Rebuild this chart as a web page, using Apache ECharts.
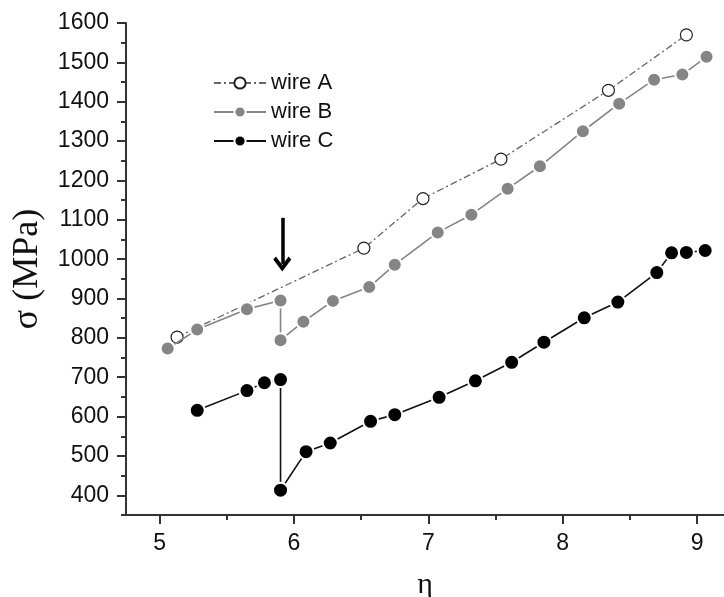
<!DOCTYPE html>
<html>
<head>
<meta charset="utf-8">
<script src="https://cdn.jsdelivr.net/npm/echarts@6/dist/echarts.min.js"></script>
<style>
  html, body { margin: 0; padding: 0; background: #fff; }
  #chart { width: 724px; height: 597px; }
</style>
</head>
<body>
<div id="chart"></div>
<script>
// Strain (eta) vs. flow stress (sigma) for three wires
const wireA_eta   = [5.13, 6.52, 6.96, 7.54, 8.34, 8.92];
const wireA_sigma = [802, 1028, 1154, 1254, 1429, 1570];

const wireB_eta   = [5.06, 5.28, 5.65, 5.90, 5.90, 6.07, 6.29, 6.56, 6.75, 7.07, 7.32, 7.59, 7.83, 8.15, 8.42, 8.68, 8.89, 9.07];
const wireB_sigma = [773, 821, 873, 895, 794, 841, 894, 929, 986, 1068, 1113, 1179, 1236, 1325, 1395, 1456, 1469, 1514];

const wireC_eta   = [5.28, 5.65, 5.78, 5.90, 5.90, 6.09, 6.27, 6.57, 6.75, 7.08, 7.35, 7.62, 7.86, 8.16, 8.41, 8.70, 8.81, 8.92, 9.06];
const wireC_sigma = [616, 666, 686, 694, 413, 511, 533, 588, 605, 649, 691, 738, 789, 851, 891, 966, 1016, 1017, 1022];

const seriesNames = ['wire A', 'wire B', 'wire C'];

// Axis ticks
const xTicks      = [5, 6, 7, 8, 9];
const xMinorTicks = [5.5, 6.5, 7.5, 8.5];
const yTicks      = [400, 500, 600, 700, 800, 900, 1000, 1100, 1200, 1300, 1400, 1500, 1600];
const yMinorTicks = [350, 450, 550, 650, 750, 850, 950, 1050, 1150, 1250, 1350, 1450, 1550];

// Arrow marking the step at eta ~ 5.9 (tail and head)
const arrowEta   = [5.913, 5.913];
const arrowSigma = [1105, 988];

const pairs = (xs, ys) => xs.map((x, i) => [x, ys[i]]);
const plain = v => String(v);

const AXIS_COLOR = '#333';
const TEXT_COLOR = '#111';
const SANS = '"Liberation Sans", Arial, sans-serif';
const SERIF = '"Liberation Serif", "Times New Roman", serif';

const xRange = { min: 4.75, max: 9.2 };
const yRange = { min: 350, max: 1600 };

const chart = echarts.init(document.getElementById('chart'), null, { renderer: 'canvas' });

chart.setOption({
  animation: false,
  backgroundColor: '#fff',
  grid: { left: 126, right: 0, top: 23, bottom: 82, containLabel: false, outerBoundsMode: 'none' },
  legend: {
    data: seriesNames,
    orient: 'vertical',
    left: 208,
    top: 67,
    itemWidth: 52,
    itemHeight: 14,
    itemGap: 7,
    selectedMode: false,
    textStyle: { fontFamily: SANS, fontSize: 22, color: TEXT_COLOR, lineHeight: 22 }
  },
  xAxis: [
    {
      type: 'value',
      min: xRange.min, max: xRange.max,
      name: 'η',
      nameLocation: 'middle',
      nameGap: 55,
      nameTextStyle: { fontFamily: SERIF, fontSize: 30, color: TEXT_COLOR },
      axisLine: { show: true, onZero: false, lineStyle: { color: AXIS_COLOR, width: 2 } },
      axisTick: { show: true, inside: false, length: 9, customValues: xTicks, lineStyle: { color: AXIS_COLOR, width: 2 } },
      axisLabel: { show: true, customValues: xTicks, formatter: plain, margin: 17, fontFamily: SANS, fontSize: 23, color: TEXT_COLOR },
      splitLine: { show: false }
    },
    {
      type: 'value',
      min: xRange.min, max: xRange.max,
      position: 'bottom',
      axisLine: { show: false },
      axisTick: { show: true, inside: false, length: 5, customValues: xMinorTicks, lineStyle: { color: AXIS_COLOR, width: 2 } },
      axisLabel: { show: false },
      splitLine: { show: false }
    }
  ],
  yAxis: [
    {
      type: 'value',
      min: yRange.min, max: yRange.max,
      name: 'σ (MPa)',
      nameLocation: 'middle',
      nameGap: 80,
      nameTextStyle: { fontFamily: SERIF, fontSize: 36, color: TEXT_COLOR },
      axisLine: { show: true, onZero: false, lineStyle: { color: AXIS_COLOR, width: 2 } },
      axisTick: { show: true, inside: false, length: 9, customValues: yTicks, lineStyle: { color: AXIS_COLOR, width: 2 } },
      axisLabel: { show: true, customValues: yTicks, formatter: plain, margin: 17, fontFamily: SANS, fontSize: 23, color: TEXT_COLOR },
      splitLine: { show: false }
    },
    {
      type: 'value',
      min: yRange.min, max: yRange.max,
      position: 'left',
      axisLine: { show: false },
      axisTick: { show: true, inside: false, length: 5, customValues: yMinorTicks, lineStyle: { color: AXIS_COLOR, width: 2 } },
      axisLabel: { show: false },
      splitLine: { show: false }
    }
  ],
  series: [
    {
      name: seriesNames[0],
      type: 'line',
      data: pairs(wireA_eta, wireA_sigma),
      symbol: 'circle',
      symbolSize: 12,
      itemStyle: { color: '#fff', borderColor: '#222', borderWidth: 1.2 },
      lineStyle: { color: '#666', width: 1.3, type: [7, 3, 2, 3] },
      z: 2
    },
    {
      name: seriesNames[1],
      type: 'line',
      data: pairs(wireB_eta, wireB_sigma),
      symbol: 'circle',
      symbolSize: 14,
      itemStyle: { color: '#858585', borderColor: '#fff', borderWidth: 2 },
      lineStyle: { color: '#858585', width: 1.6 },
      z: 3
    },
    {
      name: seriesNames[2],
      type: 'line',
      data: pairs(wireC_eta, wireC_sigma),
      symbol: 'circle',
      symbolSize: 15,
      itemStyle: { color: '#000', borderColor: '#fff', borderWidth: 2 },
      lineStyle: { color: '#111', width: 1.6 },
      z: 4,
      markLine: {
        silent: true,
        symbol: ['none', 'path://M10,0 L20,11 L17,14 L10,6 L3,14 L0,11 Z'],
        symbolSize: [18, 15],
        label: { show: false },
        lineStyle: { color: '#000', width: 3.5, type: 'solid' },
        data: [[
          { coord: [arrowEta[0], arrowSigma[0]] },
          { coord: [arrowEta[1], arrowSigma[1]] }
        ]]
      }
    }
  ]
});
</script>
</body>
</html>
